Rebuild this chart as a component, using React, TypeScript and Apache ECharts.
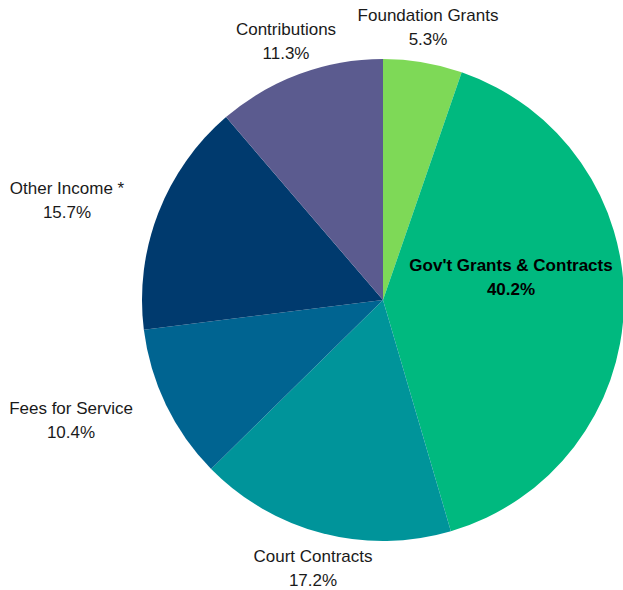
import React, { useEffect, useRef } from "react";
import * as echarts from "echarts";

const categories = [
  "Foundation Grants",
  "Gov't Grants & Contracts",
  "Court Contracts",
  "Fees for Service",
  "Other Income *",
  "Contributions",
];
const values = [5.3, 40.2, 17.2, 10.4, 15.7, 11.3];
const colors = ["#7ed957", "#00b97f", "#00949a", "#006491", "#003a6e", "#5b5b8f"];
const labelCenters: [number, number][] = [
  [428, 27],
  [511, 277],
  [313, 568],
  [71, 420],
  [67, 200],
  [286, 41],
];

export default function App() {
  const ref = useRef<HTMLDivElement>(null);
  useEffect(() => {
    if (!ref.current) return;
    const chart = echarts.init(ref.current, undefined, { renderer: "svg" });
    chart.setOption({
      animation: false,
      backgroundColor: "#ffffff",
      series: [
        {
          type: "pie",
          center: [383, 300],
          radius: [0, 241],
          startAngle: 90,
          clockwise: true,
          avoidLabelOverlap: false,
          data: categories.map((c, i) => ({
            name: c,
            value: values[i],
            itemStyle: { color: colors[i] },
            label:
              i === 1
                ? { fontWeight: "bold", color: "#000000" }
                : { color: "#1a1a1a" },
          })),
          label: {
            show: true,
            position: "outside",
            fontFamily: "Liberation Sans",
            fontSize: 17,
            lineHeight: 24,
            align: "center",
            overflow: "none",
            width: 300,
            formatter: (p: any) => `${p.name}\n${values[p.dataIndex].toFixed(1)}%`,
          },
          labelLine: { show: false },
          labelLayout: (params: any) => {
            const c = labelCenters[params.dataIndex];
            return {
              x: c[0],
              y: c[1],
              align: "center",
              verticalAlign: "middle",
              hideOverlap: false,
            };
          },
          itemStyle: { borderWidth: 0 },
          emphasis: { disabled: true },
        },
      ],
    });
    return () => chart.dispose();
  }, []);
  return (
    <div
      ref={ref}
      style={{ position: "fixed", left: 0, top: 0, width: 623, height: 590 }}
    />
  );
}
